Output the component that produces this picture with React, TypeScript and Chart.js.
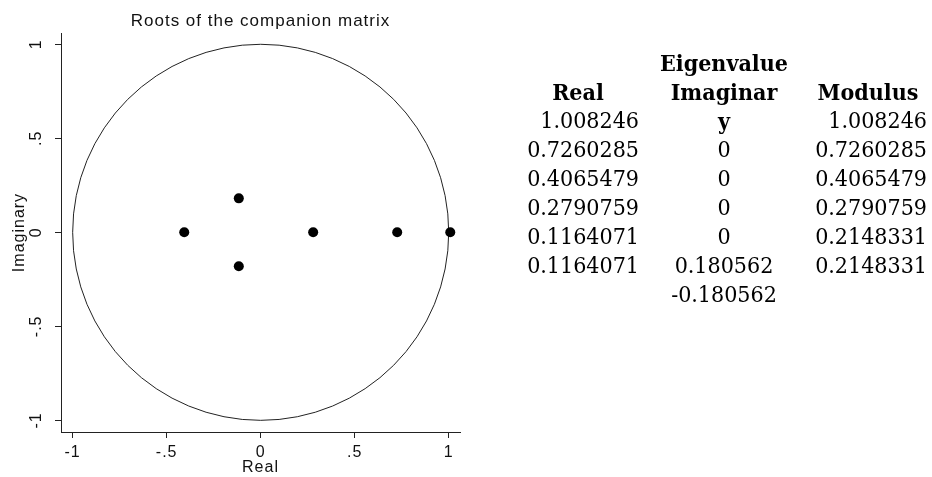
import React, { useEffect, useRef } from "react";
import { Chart, registerables } from "chart.js";

Chart.register(...registerables);

// ---- Data ----
const chartTitle = "Roots of the companion matrix";
const xAxisTitle = "Real";
const yAxisTitle = "Imaginary";

// Eigenvalues plotted (real, imaginary parts)
const rootsReal = [1.008246, 0.7260285, -0.4065479, 0.2790759, -0.1164071, -0.1164071];
const rootsImag = [0, 0, 0, 0, 0.180562, -0.180562];

const unitCircleRadius = 1;

const axisMin = -1.062;
const axisMax = 1.06;
const tickValues = [-1, -0.5, 0, 0.5, 1];
const tickLabels = ["-1", "-.5", "0", ".5", "1"];

// Table beside the graph
const tableGroupHeader = "Eigenvalue";
const tableHeaderReal = "Real";
const tableHeaderImagA = "Imaginar";
const tableHeaderImagB = "y";
const tableHeaderModulus = "Modulus";
const tableRealCol = ["1.008246", "0.7260285", "0.4065479", "0.2790759", "0.1164071", "0.1164071"];
const tableImagCol = ["0", "0", "0", "0", "0.180562", "-0.180562"];
const tableModulusCol = ["1.008246", "0.7260285", "0.4065479", "0.2790759", "0.2148331", "0.2148331"];

const INK = "#111";
const LINE = "#222";
const SANS = "'Liberation Sans', Arial, sans-serif";
const SERIF = "'DejaVu Serif Condensed', 'DejaVu Serif', serif";

const unitCirclePlugin = {
  id: "unitCircle",
  beforeDatasetsDraw(chart: any) {
    const { ctx, chartArea, scales } = chart;
    const xs = scales.x;
    const ys = scales.y;
    const cx = xs.getPixelForValue(0);
    const cy = ys.getPixelForValue(0);
    const rx = xs.getPixelForValue(unitCircleRadius) - cx;
    const ry = cy - ys.getPixelForValue(unitCircleRadius);
    ctx.save();
    ctx.beginPath();
    ctx.rect(chartArea.left, chartArea.top, chartArea.right - chartArea.left, chartArea.bottom - chartArea.top);
    ctx.clip();
    ctx.beginPath();
    ctx.ellipse(cx, cy, rx, ry, 0, 0, Math.PI * 2);
    ctx.strokeStyle = LINE;
    ctx.lineWidth = 1;
    ctx.stroke();
    ctx.restore();
  },
};

const spacingPlugin = {
  id: "letterSpacing",
  beforeDraw(chart: any) {
    (chart.ctx as any).letterSpacing = "1px";
  },
};

function RootsChart() {
  const ref = useRef<HTMLCanvasElement | null>(null);
  useEffect(() => {
    if (!ref.current) return;
    const points = rootsReal.map((r, i) => ({ x: r, y: rootsImag[i] }));
    const setTicks = (s: any) => {
      s.ticks = tickValues.map((v) => ({ value: v }));
    };
    const labelFor = (v: any) => {
      const i = tickValues.indexOf(Number(v));
      return i >= 0 ? tickLabels[i] : "";
    };
    const chart = new Chart(ref.current, {
      type: "scatter",
      data: {
        datasets: [
          {
            data: points,
            backgroundColor: "#000",
            borderColor: "#000",
            pointRadius: 5,
            pointBorderWidth: 0,
            pointHoverRadius: 5,
          },
        ],
      },
      options: {
        animation: false,
        responsive: false,
        events: [],
        layout: { padding: { left: 0, right: 20, top: 0, bottom: 0 } },
        plugins: {
          legend: { display: false },
          tooltip: { enabled: false },
          title: {
            display: true,
            fullSize: false,
            text: chartTitle,
            color: INK,
            font: { family: SANS, size: 17, weight: "normal" },
            padding: { top: 11, bottom: 1.6 },
          },
        },
        scales: {
          x: {
            type: "linear",
            min: axisMin,
            max: axisMax,
            afterBuildTicks: setTicks,
            afterFit: (s: any) => {
              s.height = 45;
            },
            grid: { display: true, drawOnChartArea: false, drawTicks: true, tickLength: 6, color: LINE, lineWidth: 1 },
            border: { display: true, color: LINE, width: 1 },
            ticks: {
              color: INK,
              font: { family: SANS, size: 16 },
              padding: 5,
              maxRotation: 0,
              minRotation: 0,
              autoSkip: false,
              callback: labelFor,
            },
            title: {
              display: true,
              text: xAxisTitle,
              color: INK,
              font: { family: SANS, size: 16 },
              padding: { top: 0, bottom: 0 },
            },
          },
          y: {
            type: "linear",
            min: axisMin,
            max: axisMax,
            afterBuildTicks: setTicks,
            afterFit: (s: any) => {
              s.width = 61;
            },
            grid: { display: true, drawOnChartArea: false, drawTicks: true, tickLength: 6, color: LINE, lineWidth: 1 },
            border: { display: true, color: LINE, width: 1 },
            ticks: {
              color: INK,
              font: { family: SANS, size: 16 },
              padding: 9,
              minRotation: 90,
              maxRotation: 90,
              crossAlign: "center",
              autoSkip: false,
              callback: labelFor,
            },
            title: {
              display: true,
              text: yAxisTitle,
              color: INK,
              font: { family: SANS, size: 16 },
              padding: { top: 10, bottom: 0 },
            },
          },
        },
      },
      plugins: [spacingPlugin, unitCirclePlugin],
    } as any);
    return () => chart.destroy();
  }, []);
  return <canvas ref={ref} width={480} height={477} style={{ position: "absolute", left: 0, top: 0 }} />;
}

const ROW0 = 47.5;
const ROWH = 29;

function Cell(props: { row: number; text: string; bold?: boolean; left: number; width: number; align: "left" | "center" | "right" }) {
  return (
    <div
      style={{
        position: "absolute",
        top: ROW0 + props.row * ROWH,
        left: props.left,
        width: props.width,
        height: ROWH,
        lineHeight: ROWH + "px",
        textAlign: props.align,
        fontWeight: props.bold ? "bold" : "normal",
        whiteSpace: "nowrap",
      }}
    >
      {props.text}
    </div>
  );
}

function EigenTable() {
  return (
    <div style={{ position: "absolute", left: 0, top: 0, width: 932, height: 477, fontFamily: SERIF, fontSize: 23, color: "#000" }}>
      <Cell row={0} text={tableGroupHeader} bold left={624} width={200} align="center" />
      <Cell row={1} text={tableHeaderReal} bold left={478} width={200} align="center" />
      <Cell row={1} text={tableHeaderImagA} bold left={624} width={200} align="center" />
      <Cell row={2} text={tableHeaderImagB} bold left={624} width={200} align="center" />
      <Cell row={1} text={tableHeaderModulus} bold left={768} width={200} align="center" />
      {tableRealCol.map((t, i) => (
        <Cell key={"r" + i} row={2 + i} text={t} left={439} width={200} align="right" />
      ))}
      {tableImagCol.map((t, i) => (
        <Cell key={"i" + i} row={3 + i} text={t} left={624} width={200} align="center" />
      ))}
      {tableModulusCol.map((t, i) => (
        <Cell key={"m" + i} row={2 + i} text={t} left={727} width={200} align="right" />
      ))}
    </div>
  );
}

export default function App() {
  return (
    <div style={{ position: "fixed", left: 0, top: 0, width: 932, height: 477, background: "#fff", overflow: "hidden" }}>
      <RootsChart />
      <EigenTable />
    </div>
  );
}
